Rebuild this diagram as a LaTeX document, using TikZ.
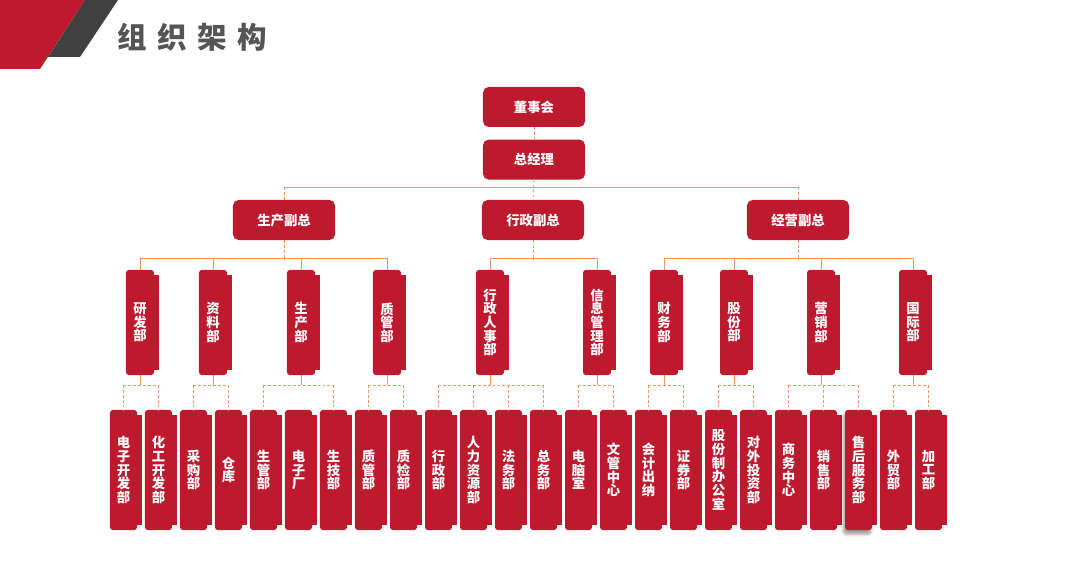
\documentclass[tikz,border=0pt]{standalone}
\usepackage{fontspec}
\setmainfont{Noto Sans CJK SC}
\usetikzlibrary{positioning, calc, backgrounds, shadows, shadows.blur}
\definecolor{boxred}{RGB}{190,26,46}
\definecolor{linkorange}{RGB}{240,150,100}
\definecolor{titlegray}{RGB}{85,85,85}
\definecolor{bandgray}{RGB}{64,64,64}

\begin{document}
\begin{tikzpicture}[x=0.025cm, y=-0.025cm,
  topbox/.style={fill=boxred, rounded corners=4pt, minimum width=2.55cm, minimum height=1cm, inner sep=0pt, text=white, font=\bfseries\fontsize{9.5pt}{9.5pt}\selectfont},
  deptbox/.style={fill=boxred, rounded corners=2pt, minimum width=0.7cm, minimum height=2.625cm, inner sep=0pt, text=white, align=center, font=\bfseries\fontsize{9.5pt}{9.7pt}\selectfont, execute at begin node={\setlength{\lineskiplimit}{-5pt}}},
  subbox/.style={deptbox, minimum width=0.675cm, minimum height=3cm},
  solidlink/.style={draw=linkorange, line width=0.6pt},
  dashlink/.style={solidlink, dash pattern=on 2pt off 1.5pt}]
\useasboundingbox (0,0) rectangle (1080,569);

% header band and title
\fill[boxred] (0,0) -- (85,0) -- (40,69) -- (0,69) -- cycle;
\fill[bandgray] (85,0) -- (118,0) -- (80,57) -- (48,57) -- cycle;
\node[anchor=west, inner sep=0pt, text=titlegray, font=\bfseries\fontsize{21pt}{21pt}\selectfont] (title) at (117,37) {组\hspace{7.5pt}织\hspace{7.5pt}架\hspace{7.5pt}构};

% top levels
\node[topbox] (board) at (534,107) {董事会};
\node[topbox, below=0.3cm of board] (ceo) {总经理};
\node[topbox] (vp1) at (284,220) {生产副总};
\node[topbox] (vp2) at (533,220) {行政副总};
\node[topbox] (vp3) at (798,220) {经营副总};

% departments
\foreach \n/\x/\txt in {d1/140/{研\\发\\部}, d2/213/{资\\料\\部}, d3/301/{生\\产\\部}, d4/387/{质\\管\\部},
    d5/490/{行\\政\\人\\事\\部}, d6/597/{信\\息\\管\\理\\部}, d7/664/{财\\务\\部}, d8/734/{股\\份\\部},
    d9/821/{营\\销\\部}, d10/913/{国\\际\\部}}
  \node[deptbox] (\n) at (\x,322.5) {\txt};

% sections
\foreach \i/\txt in {1/{电\\子\\开\\发\\部}, 2/{化\\工\\开\\发\\部}, 3/{采\\购\\部}, 4/{仓\\库},
    5/{生\\管\\部}, 6/{电\\子\\厂}, 7/{生\\技\\部}, 8/{质\\管\\部}, 9/{质\\检\\部},
    10/{行\\政\\部}, 11/{人\\力\\资\\源\\部}, 12/{法\\务\\部}, 13/{总\\务\\部},
    14/{电\\脑\\室}, 15/{文\\管\\中\\心}, 16/{会\\计\\出\\纳}, 17/{证\\券\\部},
    18/{股\\份\\制\\办\\公\\室}, 19/{对\\外\\投\\资\\部}, 20/{商\\务\\中\\心}, 21/{销\\售\\部},
    23/{外\\贸\\部}, 24/{加\\工\\部}}
  \node[subbox] (s\i) at ({123.5+35*(\i-1)},470) {\txt};
\node[subbox, blur shadow={shadow xshift=-1pt, shadow yshift=-3pt, shadow blur steps=6, shadow opacity=40}] (s22) at (858.5,470) {售\\后\\服\\务\\部};

% side tabs behind the boxes
\begin{scope}[on background layer]
\foreach \n in {d1,d2,d3,d4,d5,d6,d7,d8,d9,d10,s1,s2,s3,s4,s5,s6,s7,s8,s9,s10,s11,s12,s13,s14,s15,s16,s17,s18,s19,s20,s21,s22,s23,s24}
  \fill[boxred] ([xshift=-5pt,yshift=-4pt]\n.north east) rectangle ([xshift=3pt,yshift=4pt]\n.south east);
\end{scope}

% links
\coordinate (bus1) at (534,187);
\coordinate (bus2) at (534,258);
\coordinate (bus3) at (534,385);
\draw[dashlink] (board) -- (ceo);
\draw[dashlink] (ceo.south) -- (vp2.north);
\draw[solidlink] (vp1 |- bus1) -- (vp3 |- bus1);
\draw[dashlink] (vp1 |- bus1) -- (vp1.north);
\draw[dashlink] (vp3 |- bus1) -- (vp3.north);

\foreach \v/\first/\last in {vp1/d1/d4, vp2/d5/d6, vp3/d7/d10}{
  \draw[dashlink] (\v.south) -- ([yshift=-2pt]\v |- bus2);
  \draw[solidlink] (\first |- bus2) -- (\last |- bus2);
}
\foreach \d in {d1,d2,d3,d4,d5,d6,d7,d8,d9,d10}
  \draw[solidlink] (\d |- bus2) -- (\d.north);

\foreach \d/\first/\last in {d1/s1/s2, d2/s3/s4, d3/s5/s7, d4/s8/s9, d5/s10/s13,
    d6/s14/s15, d7/s16/s17, d8/s18/s19, d9/s20/s22, d10/s23/s24}{
  \draw[solidlink] (\d.south) -- (\d |- bus3);
  \draw[dashlink] (\first |- bus3) -- (\last |- bus3);
  \draw[dashlink] (\first |- bus3) -- (\first.north);
  \draw[dashlink] (\last |- bus3) -- (\last.north);
}
\foreach \s in {s11,s12,s21}
  \draw[dashlink] (\s |- bus3) -- (\s.north);
\end{tikzpicture}
\end{document}
